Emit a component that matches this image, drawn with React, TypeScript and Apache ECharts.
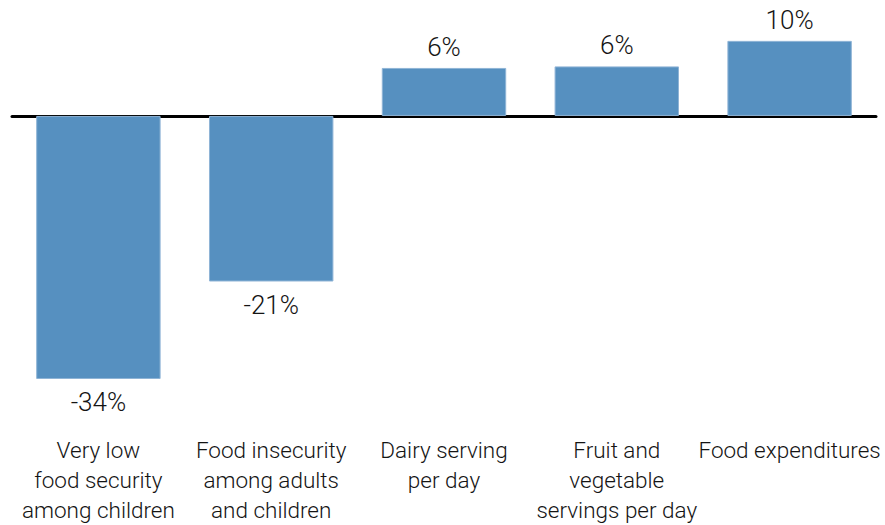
import React, { useEffect, useRef } from "react";
import * as echarts from "echarts";

const categories = [
  "Very low\nfood security\namong children",
  "Food insecurity\namong adults\nand children",
  "Dairy serving\nper day",
  "Fruit and\nvegetable\nservings per day",
  "Food expenditures",
];
const values = [-34, -21.4, 6.2, 6.4, 9.7];

const FONT = "Roboto";

export default function App() {
  const ref = useRef<HTMLDivElement>(null);
  useEffect(() => {
    if (!ref.current) return;
    const chart = echarts.init(ref.current, undefined, { renderer: "svg" });
    chart.setOption({
      animation: false,
      grid: { left: 12, right: 9, top: 7.6, bottom: 525 - 379.3 },
      xAxis: [
        {
          type: "category",
          data: categories,
          axisLine: { onZero: true, lineStyle: { color: "#000", width: 3 } },
          axisTick: { show: false },
          axisLabel: { show: false },
        },
        {
          type: "category",
          data: categories,
          position: "bottom",
          axisLine: { show: false },
          axisTick: { show: false },
          axisLabel: {
            interval: 0,
            margin: 56,
            fontFamily: FONT,
            fontWeight: 300,
            fontSize: 22.5,
            lineHeight: 30,
            color: "#141414",
          },
        },
      ],
      yAxis: {
        type: "value",
        min: -34,
        max: 14,
        show: false,
        splitLine: { show: false },
      },
      series: [
        {
          type: "bar",
          xAxisIndex: 0,
          data: values.map((v) => ({
            value: v,
            label: { position: v < 0 ? "bottom" : "top", distance: v < 0 ? 10 : 8 },
          })),
          barCategoryGap: "28%",
          itemStyle: { color: "#5690c0", borderColor: "#8fb4d6", borderWidth: 1 },
          label: {
            show: true,
            fontFamily: FONT,
            fontWeight: 300,
            fontSize: 26,
            color: "#141414",
            formatter: (p: any) => Math.round(p.value) + "%",
          },
        },
      ],
    });
    return () => chart.dispose();
  }, []);
  return <div ref={ref} style={{ width: 885, height: 525, position: "absolute", left: 0, top: 0 }} />;
}
